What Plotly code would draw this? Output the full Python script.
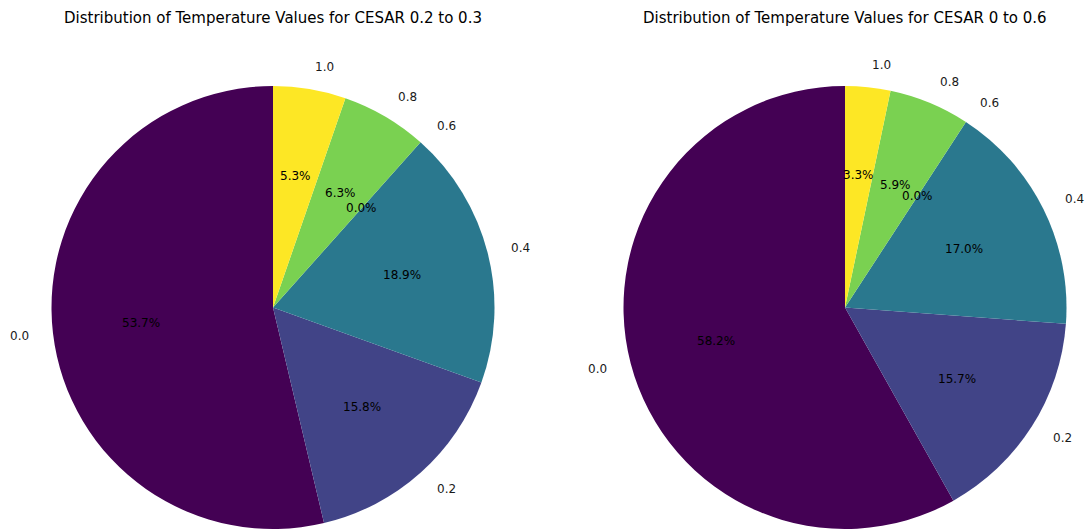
import math
import plotly.graph_objects as go

# ---- data ----
categories = ["0.0", "0.2", "0.4", "0.6", "0.8", "1.0"]
left_values = [53.7, 15.8, 18.9, 0.0, 6.3, 5.3]
right_values = [58.2, 15.7, 17.0, 0.0, 5.9, 3.3]
left_title = "Distribution of Temperature Values for CESAR 0.2 to 0.3"
right_title = "Distribution of Temperature Values for CESAR 0 to 0.6"
colors = ["#440154", "#414487", "#2a788e", "#22a884", "#7ad151", "#fde725"]

# ---- layout geometry (pixels) ----
W, H = 1087, 529
R = 221.5
pies = [
    dict(values=left_values, title=left_title, cx=273, cy=307.5),
    dict(values=right_values, title=right_title, cx=845, cy=307.5),
]
FONT = "DejaVu Sans"

fig = go.Figure()
annotations = []

def px(x):
    return x / W

def py(y):
    return 1 - y / H

for p in pies:
    cx, cy = p["cx"], p["cy"]
    total = sum(p["values"])
    dom_x = [px(cx - R), px(cx + R)]
    dom_y = [max(0, py(cy + R)), py(cy - R)]
    fig.add_trace(go.Pie(
        labels=categories, values=p["values"], sort=False,
        direction="counterclockwise",
        rotation=-360 * p["values"][0] / total,
        marker=dict(colors=colors, line=dict(width=0)),
        textinfo="none", hoverinfo="label+percent", showlegend=False,
        domain=dict(x=dom_x, y=dom_y),
    ))
    cum = 0.0
    for lab, v in zip(categories, p["values"]):
        frac_mid = (cum + v / 2) / total
        cum += v
        ang = math.radians(90 + 360 * frac_mid)
        # percentage text at 0.6 r
        x1 = cx + 0.6 * R * math.cos(ang)
        y1 = cy - 0.6 * R * math.sin(ang)
        annotations.append(dict(
            x=px(x1), y=py(y1), xref="paper", yref="paper",
            text=f"{v:.1f}%", showarrow=False,
            xanchor="center", yanchor="middle",
            font=dict(family=FONT, size=12, color="#000000")))
        # category label at 1.1 r
        x2 = cx + 1.1 * R * math.cos(ang)
        y2 = cy - 1.1 * R * math.sin(ang)
        annotations.append(dict(
            x=px(x2), y=py(y2), xref="paper", yref="paper",
            text=lab, showarrow=False,
            xanchor="left" if math.cos(ang) > 0 else "right", yanchor="middle",
            font=dict(family=FONT, size=12, color="#1a1a1a")))
    annotations.append(dict(
        x=px(cx), y=py(18), xref="paper", yref="paper",
        text=p["title"], showarrow=False, xanchor="center", yanchor="middle",
        font=dict(family=FONT, size=15, color="#000000")))

fig.update_layout(
    width=W, height=H,
    margin=dict(l=0, r=0, t=0, b=0),
    paper_bgcolor="white", plot_bgcolor="white",
    annotations=annotations,
)

fig.write_html("out.html",
               config={"displayModeBar": False},
               post_script="document.body.style.margin='0';document.body.style.overflow='hidden';")
